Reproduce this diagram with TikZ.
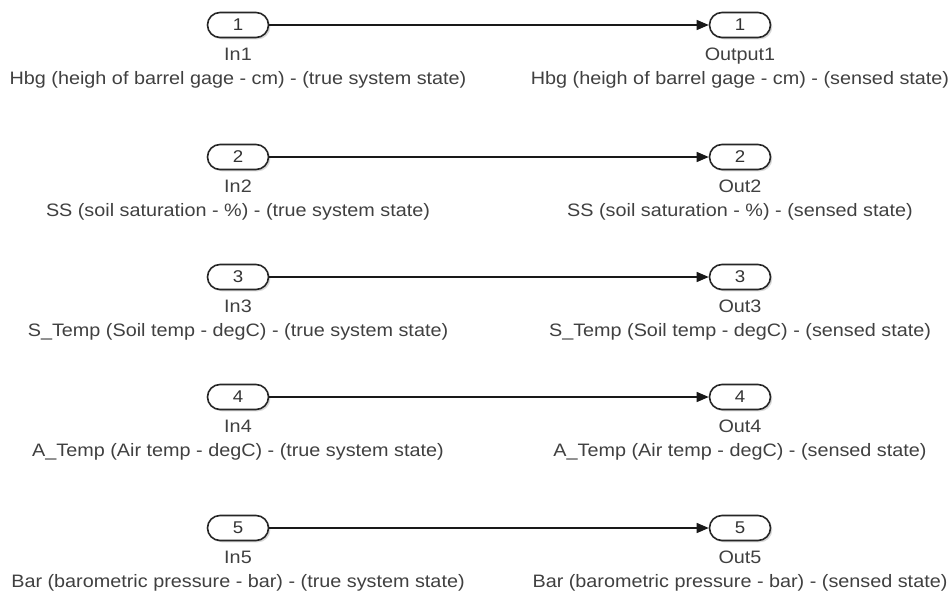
\documentclass[tikz,border=0pt]{standalone}
\usepackage{fontspec}
\setmainfont[FakeStretch=1.1]{Liberation Sans}
\usetikzlibrary{arrows.meta,shadows}
\begin{document}
\begin{tikzpicture}[x=1pt,y=-1pt,
  port/.style={draw=black!85, line width=1.6pt, rounded corners=12.5pt,
    minimum width=61pt, minimum height=25pt, inner sep=0pt, fill=white,
    text=black!80, font=\fontsize{17}{17}\selectfont,
    drop shadow={shadow xshift=1.8pt, shadow yshift=-1.8pt, opacity=0.3}},
  lbl/.style={font=\fontsize{18}{18}\selectfont, text=black!75, inner sep=0pt,
    text height=13pt, text depth=4pt},
  wire/.style={line width=1.3pt, draw=black!90, -{Triangle[length=12pt,width=10pt]}}]
\useasboundingbox (0,0) rectangle (952,597);
\fill[white] (0,0) rectangle (952,597);
\foreach \i/\y/\o/\a/\b in {
  1/25/Output1/{Hbg (heigh of barrel gage - cm) - (true system state)}/{Hbg (heigh of barrel gage - cm) - (sensed state)},
  2/157/Out2/{SS (soil saturation - \%) - (true system state)}/{SS (soil saturation - \%) - (sensed state)},
  3/277/Out3/{S\_Temp (Soil temp - degC) - (true system state)}/{S\_Temp (Soil temp - degC) - (sensed state)},
  4/397/Out4/{A\_Temp (Air temp - degC) - (true system state)}/{A\_Temp (Air temp - degC) - (sensed state)},
  5/528/Out5/{Bar (barometric pressure - bar) - (true system state)}/{Bar (barometric pressure - bar) - (sensed state)}}{
  \node[port] (in\i) at (238,\y) {\i};
  \node[port] (out\i) at (740,\y) {\i};
  \node[lbl] (inl\i) at (238,\y+31) {In\i};
  \node[lbl] (ind\i) at (238,\y+55) {\a};
  \node[lbl] (outl\i) at (740,\y+31) {\o};
  \node[lbl] (outd\i) at (740,\y+55) {\b};
  \draw[wire] (in\i) -- (out\i);
}
\end{tikzpicture}
\end{document}
